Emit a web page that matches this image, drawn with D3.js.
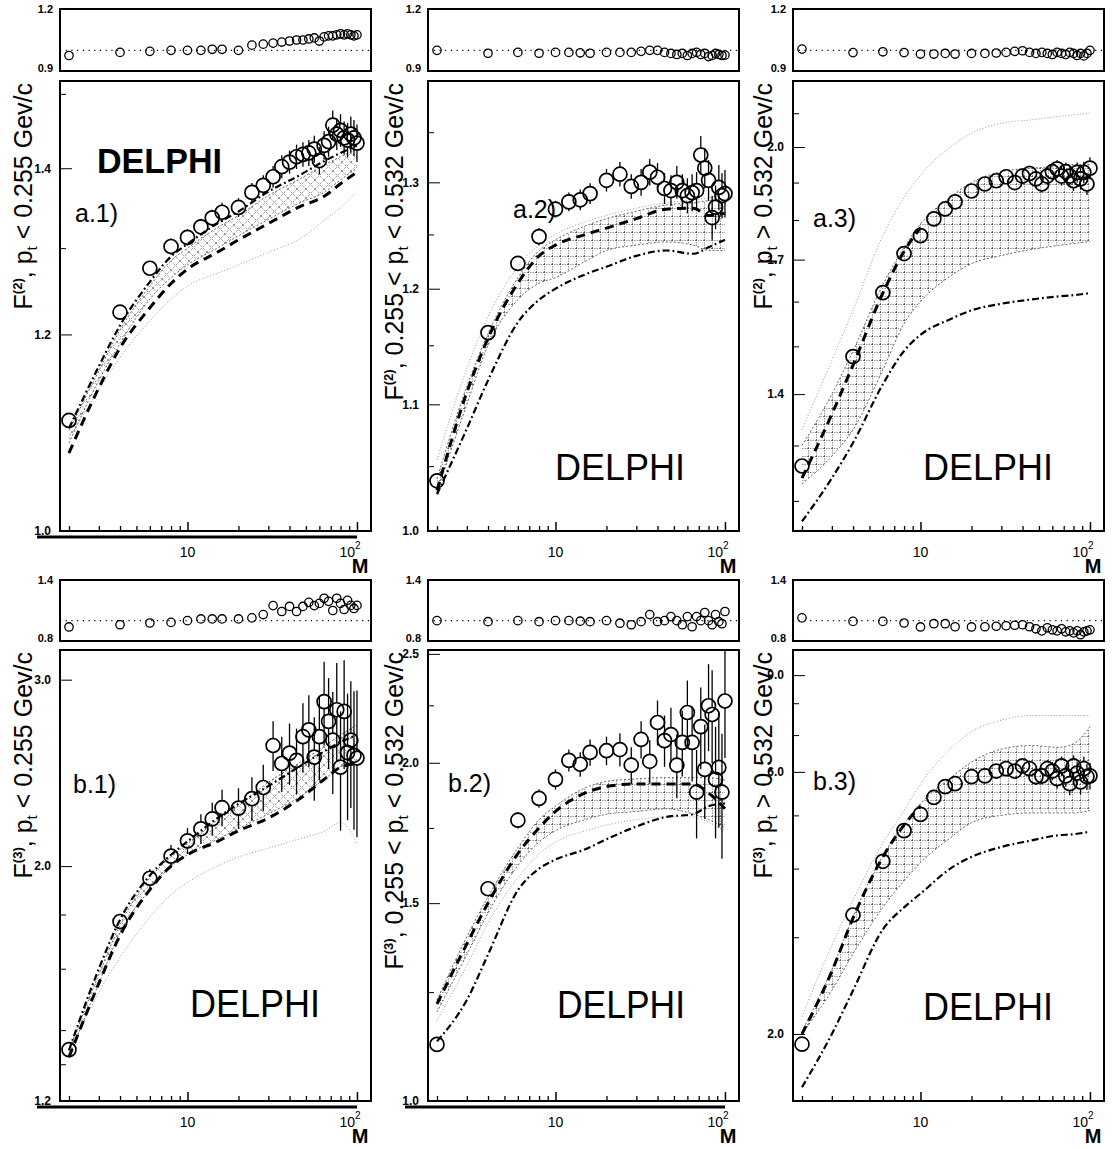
<!DOCTYPE html>
<html>
<head>
<meta charset="utf-8">
<script src="https://cdn.jsdelivr.net/npm/d3@7"></script>
<style>
  body { margin: 0; background: #fff; }
  svg { display: block; }
  text { font-family: "Liberation Sans", Arial, sans-serif; fill: #000; }
</style>
</head>
<body>
<div id="chart"></div>
<script>
// bin numbers of the measured points
var M = [2, 4, 6, 8, 10, 12, 14, 16, 20, 24, 28, 32, 36, 40, 44, 48, 52, 56, 60, 64, 68, 72, 76, 80, 84, 88, 92, 96, 100];
// M grid of the model curves
var modelM = [2, 3, 4, 6, 8, 10, 15, 20, 30, 45, 65, 80, 100];

// ---- a.1  F(2), pt < 0.255
var a1Data  = [1.108, 1.225, 1.276, 1.302, 1.313, 1.326, 1.337, 1.344, 1.35, 1.369, 1.378, 1.389, 1.402, 1.408, 1.415, 1.418, 1.42, 1.425, 1.41, 1.43, 1.435, 1.457, 1.445, 1.45, 1.44, 1.437, 1.445, 1.44, 1.433];
var a1Err   = [0.006, 0.008, 0.008, 0.01, 0.01, 0.01, 0.01, 0.012, 0.012, 0.012, 0.013, 0.014, 0.015, 0.015, 0.016, 0.016, 0.017, 0.018, 0.018, 0.019, 0.02, 0.02, 0.021, 0.022, 0.022, 0.023, 0.024, 0.024, 0.025];
var a1Ratio = [0.975, 0.99, 0.995, 1.0, 1.0, 1.0, 1.005, 1.005, 1.0, 1.025, 1.03, 1.035, 1.04, 1.045, 1.05, 1.05, 1.055, 1.06, 1.045, 1.065, 1.07, 1.07, 1.075, 1.08, 1.075, 1.08, 1.075, 1.07, 1.075];
var a1Dashed  = [1.075, 1.142, 1.185, 1.23, 1.258, 1.275, 1.295, 1.31, 1.33, 1.35, 1.365, 1.38, 1.395];
var a1DashDot = [1.10, 1.165, 1.21, 1.26, 1.29, 1.305, 1.33, 1.345, 1.37, 1.39, 1.41, 1.42, 1.43];
var a1BandHi  = [1.098, 1.16, 1.205, 1.255, 1.285, 1.30, 1.325, 1.34, 1.365, 1.385, 1.405, 1.415, 1.425];
var a1BandLo  = [1.085, 1.15, 1.19, 1.24, 1.265, 1.28, 1.30, 1.315, 1.335, 1.355, 1.37, 1.385, 1.40];
var a1Outer   = [1.09, 1.14, 1.175, 1.215, 1.24, 1.255, 1.27, 1.28, 1.295, 1.31, 1.335, 1.35, 1.37];

// ---- a.2  F(2), 0.255 < pt < 0.532
var a2Data  = [1.0385, 1.161, 1.223, 1.248, 1.274, 1.281, 1.283, 1.289, 1.302, 1.308, 1.296, 1.300, 1.310, 1.305, 1.294, 1.292, 1.300, 1.292, 1.287, 1.290, 1.292, 1.327, 1.314, 1.302, 1.266, 1.276, 1.295, 1.287, 1.289];
var a2Err   = [0.004, 0.006, 0.007, 0.008, 0.008, 0.009, 0.01, 0.01, 0.011, 0.012, 0.012, 0.013, 0.013, 0.014, 0.015, 0.015, 0.016, 0.016, 0.017, 0.018, 0.018, 0.019, 0.02, 0.02, 0.021, 0.021, 0.022, 0.022, 0.023];
var a2Ratio = [1.0, 0.986, 0.99, 0.986, 0.99, 0.99, 0.988, 0.986, 0.99, 0.99, 0.99, 0.995, 1.0, 1.0, 0.99, 0.985, 0.98, 0.985, 0.975, 0.985, 0.99, 0.98, 0.985, 0.97, 0.975, 0.985, 0.98, 0.975, 0.977];
var a2Dashed  = [1.031, 1.11, 1.156, 1.205, 1.23, 1.24, 1.25, 1.256, 1.265, 1.274, 1.275, 1.268, 1.27];
var a2DashDot = [1.028, 1.08, 1.12, 1.17, 1.19, 1.20, 1.213, 1.22, 1.23, 1.235, 1.232, 1.238, 1.245];
var a2BandHi  = [1.04, 1.115, 1.16, 1.21, 1.235, 1.245, 1.258, 1.265, 1.272, 1.278, 1.28, 1.282, 1.282];
var a2BandLo  = [1.03, 1.10, 1.15, 1.19, 1.205, 1.21, 1.225, 1.235, 1.24, 1.243, 1.24, 1.235, 1.235];
var a2Outer   = [1.055, 1.13, 1.175, 1.22, 1.24, 1.25, 1.262, 1.268, 1.275, 1.28, 1.283, 1.285, 1.288];

// ---- a.3  F(2), pt > 0.532
var a3Data  = [1.262, 1.478, 1.621, 1.715, 1.76, 1.803, 1.829, 1.848, 1.877, 1.896, 1.905, 1.916, 1.90, 1.918, 1.925, 1.91, 1.896, 1.918, 1.93, 1.938, 1.918, 1.93, 1.918, 1.905, 1.928, 1.91, 1.928, 1.896, 1.94];
var a3Err   = [0.01, 0.01, 0.012, 0.012, 0.013, 0.014, 0.015, 0.016, 0.017, 0.018, 0.019, 0.02, 0.02, 0.021, 0.022, 0.022, 0.023, 0.024, 0.024, 0.025, 0.026, 0.026, 0.027, 0.028, 0.028, 0.029, 0.03, 0.03, 0.031];
var a3Ratio = [1.006, 0.989, 0.993, 0.989, 0.982, 0.982, 0.985, 0.982, 0.985, 0.985, 0.987, 0.99, 0.995, 0.998, 0.99, 0.985, 0.99, 0.985, 0.98, 0.99, 0.985, 0.98, 0.99, 0.985, 0.975, 0.985, 0.973, 0.985, 1.0];
var a3Dashed  = [1.24, 1.36, 1.46, 1.62, 1.72, 1.78, null, null, null, null, null, null, null];
var a3DashDot = [1.165, 1.24, 1.305, 1.42, 1.49, 1.525, 1.56, 1.58, 1.595, 1.605, 1.612, 1.615, 1.62];
var a3BandHi  = [1.30, 1.40, 1.49, 1.64, 1.73, 1.79, 1.86, 1.90, 1.93, 1.94, 1.945, 1.95, 1.95];
var a3BandLo  = [1.23, 1.28, 1.33, 1.45, 1.55, 1.60, 1.66, 1.69, 1.71, 1.725, 1.735, 1.74, 1.745];
var a3Outer   = [1.33, 1.47, 1.58, 1.76, 1.86, 1.92, 2.0, 2.04, 2.07, 2.08, 2.09, 2.095, 2.10];

// ---- b.1  F(3), pt < 0.255
var b1Data  = [1.342, 1.773, 1.948, 2.044, 2.113, 2.169, 2.216, 2.271, 2.269, 2.316, 2.373, 2.60, 2.50, 2.557, 2.517, 2.65, 2.69, 2.535, 2.65, 2.86, 2.74, 2.63, 2.81, 2.48, 2.80, 2.56, 2.63, 2.545, 2.53];
var b1Err   = [0.02, 0.03, 0.04, 0.05, 0.06, 0.07, 0.08, 0.09, 0.1, 0.11, 0.12, 0.14, 0.15, 0.17, 0.18, 0.2, 0.21, 0.23, 0.24, 0.26, 0.27, 0.29, 0.3, 0.32, 0.33, 0.35, 0.36, 0.38, 0.4];
var b1Ratio = [0.938, 0.96, 0.977, 0.983, 1.0, 1.017, 1.017, 1.017, 1.017, 1.027, 1.06, 1.148, 1.09, 1.14, 1.09, 1.14, 1.18, 1.148, 1.17, 1.22, 1.19, 1.10, 1.22, 1.17, 1.11, 1.2, 1.15, 1.12, 1.15];
var b1Dashed  = [1.32, 1.55, 1.72, 1.90, 2.0, 2.05, 2.11, 2.16, 2.22, 2.31, 2.42, 2.48, 2.50];
var b1DashDot = [1.34, 1.60, 1.78, 1.96, 2.05, 2.11, 2.22, 2.29, 2.38, 2.48, 2.57, 2.62, 2.66];
var b1BandHi  = [1.34, 1.58, 1.76, 1.95, 2.04, 2.10, 2.21, 2.28, 2.40, 2.50, 2.60, 2.66, 2.72];
var b1BandLo  = [1.32, 1.55, 1.73, 1.90, 2.0, 2.05, 2.12, 2.17, 2.24, 2.32, 2.42, 2.48, 2.52];
var b1Outer   = [1.33, 1.52, 1.64, 1.79, 1.88, 1.93, 2.0, 2.04, 2.08, 2.12, 2.16, 2.2, 2.1];

// ---- b.2  F(3), 0.255 < pt < 0.532
var b2Data  = [1.123, 1.545, 1.778, 1.859, 1.933, 2.01, 1.994, 2.043, 2.05, 2.055, 1.99, 2.098, 2.006, 2.172, 2.093, 2.119, 1.99, 2.085, 2.217, 2.085, 1.883, 2.154, 1.973, 2.248, 2.208, 1.933, 1.981, 1.883, 2.27];
var b2Err   = [0.01, 0.02, 0.03, 0.035, 0.04, 0.045, 0.05, 0.055, 0.06, 0.07, 0.075, 0.08, 0.09, 0.1, 0.11, 0.12, 0.13, 0.14, 0.15, 0.16, 0.17, 0.18, 0.19, 0.2, 0.21, 0.22, 0.23, 0.24, 0.25];
var b2Ratio = [1.0, 0.99, 1.0, 0.99, 1.0, 1.0, 0.995, 0.99, 1.0, 0.975, 0.96, 0.99, 1.06, 0.99, 1.0, 1.04, 1.0, 0.96, 1.04, 0.94, 1.04, 1.0, 1.08, 1.0, 0.96, 1.06, 0.99, 0.97, 1.09];
var b2Dashed  = [1.22, 1.38, 1.50, 1.66, 1.75, 1.81, 1.88, 1.905, 1.915, 1.915, 1.915, 1.88, 1.82];
var b2DashDot = [1.13, 1.23, 1.35, 1.54, 1.61, 1.64, 1.675, 1.71, 1.755, 1.79, 1.80, 1.83, 1.84];
var b2BandHi  = [1.23, 1.40, 1.52, 1.68, 1.78, 1.83, 1.90, 1.925, 1.935, 1.94, 1.94, 1.94, 1.93];
var b2BandLo  = [1.2, 1.35, 1.47, 1.62, 1.70, 1.74, 1.78, 1.80, 1.81, 1.82, 1.80, 1.78, 1.75];
var b2Outer   = [1.18, 1.32, 1.44, 1.58, 1.66, 1.70, 1.74, 1.76, 1.78, 1.79, 1.79, 1.77, 1.74];

// ---- b.3  F(3), pt > 0.532
var b3Data  = [1.916, 3.293, 4.124, 4.69, 5.02, 5.39, 5.64, 5.71, 5.88, 5.90, 6.02, 6.08, 6.02, 6.15, 6.08, 5.88, 5.90, 6.08, 6.02, 5.83, 6.15, 5.90, 5.71, 6.15, 5.97, 5.75, 6.08, 5.88, 5.90];
var b3Err   = [0.03, 0.05, 0.07, 0.08, 0.09, 0.1, 0.11, 0.12, 0.13, 0.14, 0.15, 0.16, 0.17, 0.18, 0.19, 0.2, 0.21, 0.22, 0.23, 0.24, 0.25, 0.26, 0.27, 0.28, 0.29, 0.3, 0.31, 0.32, 0.33];
var b3Ratio = [1.027, 0.993, 0.993, 0.977, 0.938, 0.97, 0.97, 0.94, 0.938, 0.94, 0.945, 0.95, 0.955, 0.96, 0.94, 0.92, 0.9, 0.93, 0.91, 0.9, 0.92, 0.89, 0.9, 0.88, 0.9, 0.862, 0.89, 0.9, 0.91];
var b3Dashed  = [2.0, 2.6, 3.25, 4.2, 4.8, 5.2, null, null, null, null, null, null, null];
var b3DashDot = [1.60, 2.0, 2.4, 3.1, 3.4, 3.6, 4.0, 4.2, 4.38, 4.5, 4.6, 4.62, 4.67];
var b3BandHi  = [2.02, 2.62, 3.27, 4.22, 4.82, 5.25, 5.85, 6.25, 6.6, 6.7, 6.65, 6.75, 7.25];
var b3BandLo  = [2.0, 2.4, 2.8, 3.4, 3.8, 4.1, 4.55, 4.85, 5.0, 5.05, 5.05, 5.05, 5.1];
var b3Outer   = [2.15, 2.9, 3.5, 4.45, 5.1, 5.7, 6.6, 7.1, 7.45, 7.6, 7.6, 7.6, 7.6];

// ---- layout
var W = 1113, H = 1149;
var colX = [60, 428, 793], panelW = 311;
var ratioTop = [9, 580], ratioBot = [71, 641];
var mainTop = [81, 650], mainBot = [531, 1101];
var ratioDomain = [[0.9, 1.2], [0.8, 1.4]];
var xDomain = [1.77, 121];
var labelX = [32, 403, 772];
var cutText = [
    [", p", " < 0.255 Gev/c"],
    [", 0.255 < p", " < 0.532 Gev/c"],
    [", p", " > 0.532 Gev/c"]
];

var panels = [
    {name: "a.1)", col: 0, row: 0, order: "(2)", data: a1Data, err: a1Err, ratio: a1Ratio,
     dashed: a1Dashed, dashDot: a1DashDot, bandLo: a1BandLo, bandHi: a1BandHi, outer: a1Outer, hatch: "diag",
     yDomain: [1.0, 1.518], yMajor: [1.0, 1.2, 1.4], yMinor: [1.3, 1.5],
     delphi: [37, 92, 35, 125, true], tag: [15, 141], under: true},
    {name: "a.2)", col: 1, row: 0, order: "(2)", data: a2Data, err: a2Err, ratio: a2Ratio,
     dashed: a2Dashed, dashDot: a2DashDot, bandLo: a2BandLo, bandHi: a2BandHi, outer: a2Outer, hatch: "grid",
     yDomain: [1.0, 1.403], yMajor: [1.0, 1.1, 1.2, 1.3], yMinor: [1.05, 1.15, 1.25, 1.35],
     delphi: [127, 399, 37, 130, false], tag: [85, 137], under: false},
    {name: "a.3)", col: 2, row: 0, order: "(2)", data: a3Data, err: a3Err, ratio: a3Ratio,
     dashed: a3Dashed, dashDot: a3DashDot, bandLo: a3BandLo, bandHi: a3BandHi, outer: a3Outer, hatch: "grid",
     yDomain: [1.149, 2.20], yMajor: [1.4, 1.7, 2.0], yMinor: [1.2, 1.3, 1.5, 1.6, 1.8, 1.9, 2.1],
     delphi: [130, 399, 37, 130, false], tag: [20, 146], under: false},
    {name: "b.1)", col: 0, row: 1, order: "(3)", data: b1Data, err: b1Err, ratio: b1Ratio,
     dashed: b1Dashed, dashDot: b1DashDot, bandLo: b1BandLo, bandHi: b1BandHi, outer: b1Outer, hatch: "diag",
     yDomain: [1.2, 3.2], yMajor: [1.2, 2.0, 3.0], yMinor: [1.3, 1.4, 1.6, 1.8],
     delphi: [130, 367, 39, 130, false], tag: [13, 143], under: true},
    {name: "b.2)", col: 1, row: 1, order: "(3)", data: b2Data, err: b2Err, ratio: b2Ratio,
     dashed: b2Dashed, dashDot: b2DashDot, bandLo: b2BandLo, bandHi: b2BandHi, outer: b2Outer, hatch: "grid",
     yDomain: [1.0, 2.52], yMajor: [1.0, 1.5, 2.0, 2.5], yMinor: [1.25, 1.75, 2.25],
     delphi: [129, 368, 39, 128, false], tag: [20, 142], under: true},
    {name: "b.3)", col: 2, row: 1, order: "(3)", data: b3Data, err: b3Err, ratio: b3Ratio,
     dashed: b3Dashed, dashDot: b3DashDot, bandLo: b3BandLo, bandHi: b3BandHi, outer: b3Outer, hatch: "grid",
     yDomain: [1.51, 10.0], yMajor: [2.0, 6.0, 9.0], yMinor: [3, 4, 5, 7, 8],
     delphi: [130, 370, 39, 130, false], tag: [20, 140], under: false}
];

var svg = d3.select("#chart").append("svg")
    .attr("width", W)
    .attr("height", H);
svg.append("rect").attr("width", W).attr("height", H).attr("fill", "#fff");

// hatch patterns for the model bands
var defs = svg.append("defs");
var grid = defs.append("pattern").attr("id", "grid")
    .attr("patternUnits", "userSpaceOnUse").attr("width", 8).attr("height", 8);
grid.append("path").attr("d", "M0,0.5H8M0.5,0V8")
    .attr("stroke", "#444").attr("stroke-width", 0.8).attr("stroke-dasharray", "1,1.3").attr("fill", "none");
var diag = defs.append("pattern").attr("id", "diag")
    .attr("patternUnits", "userSpaceOnUse").attr("width", 9).attr("height", 9);
diag.append("path").attr("d", "M0,0L9,9M9,0L0,9")
    .attr("stroke", "#444").attr("stroke-width", 0.8).attr("stroke-dasharray", "1,1.3").attr("fill", "none");

function pairs(xs, ys) { return xs.map(function(m, i) { return [m, ys[i]]; }); }

panels.forEach(function(p) {
    var x0 = colX[p.col], x1 = x0 + panelW;
    var rt = ratioTop[p.row], rb = ratioBot[p.row];
    var mt = mainTop[p.row], mb = mainBot[p.row];

    var x = d3.scaleLog().domain(xDomain).range([x0, x1]);
    var y = d3.scaleLog().domain(p.yDomain).range([mb, mt]);
    var yr = d3.scaleLinear().domain(ratioDomain[p.row]).range([rb, rt]);

    var clipId = "clip" + p.col + p.row;
    defs.append("clipPath").attr("id", clipId).append("rect")
        .attr("x", x0).attr("y", mt).attr("width", panelW).attr("height", mb - mt);

    var g = svg.append("g").attr("clip-path", "url(#" + clipId + ")");

    var line = d3.line()
        .defined(function(d) { return d[1] != null; })
        .x(function(d) { return x(d[0]); })
        .y(function(d) { return y(d[1]); })
        .curve(d3.curveMonotoneX);
    var area = d3.area()
        .x(function(d) { return x(d[0]); })
        .y0(function(d) { return y(d[1]); })
        .y1(function(d) { return y(d[2]); })
        .curve(d3.curveMonotoneX);

    // hatched band
    var band = modelM.map(function(m, i) { return [m, p.bandLo[i], p.bandHi[i]]; });
    g.append("path").datum(band).attr("d", area).attr("fill", "url(#" + p.hatch + ")");
    [p.bandLo, p.bandHi].forEach(function(arr) {
        g.append("path").datum(pairs(modelM, arr)).attr("d", line)
            .attr("fill", "none").attr("stroke", "#555").attr("stroke-width", 0.9).attr("stroke-dasharray", "2,2");
    });

    // light dotted envelope
    g.append("path").datum(pairs(modelM, p.outer)).attr("d", line)
        .attr("fill", "none").attr("stroke", "#999").attr("stroke-width", 1).attr("stroke-dasharray", "1,2");

    // dash-dot model
    g.append("path").datum(pairs(modelM, p.dashDot)).attr("d", line)
        .attr("fill", "none").attr("stroke", "#000").attr("stroke-width", 2.2).attr("stroke-dasharray", "7,3,1.8,3");

    // dashed model
    g.append("path").datum(pairs(modelM, p.dashed)).attr("d", line)
        .attr("fill", "none").attr("stroke", "#000").attr("stroke-width", 3).attr("stroke-dasharray", "9,6");

    // data points with error bars
    var r = 7;
    var pts = M.map(function(m, i) { return {m: m, v: p.data[i], e: p.err[i]}; });
    var pg = g.append("g");
    pts.forEach(function(d) {
        var cx = x(d.m), cy = y(d.v), yTop = y(d.v + d.e), yBot = y(d.v - d.e);
        if (cy - r > yTop) pg.append("line").attr("x1", cx).attr("x2", cx).attr("y1", yTop).attr("y2", cy - r)
            .attr("stroke", "#000").attr("stroke-width", 1.3);
        if (yBot > cy + r) pg.append("line").attr("x1", cx).attr("x2", cx).attr("y1", cy + r).attr("y2", yBot)
            .attr("stroke", "#000").attr("stroke-width", 1.3);
    });
    pg.selectAll("circle").data(pts).enter().append("circle")
        .attr("cx", function(d) { return x(d.m); })
        .attr("cy", function(d) { return y(d.v); })
        .attr("r", r)
        .attr("fill", "none").attr("stroke", "#000").attr("stroke-width", 1.7);

    // frame
    svg.append("rect").attr("x", x0).attr("y", mt).attr("width", panelW).attr("height", mb - mt)
        .attr("fill", "none").attr("stroke", "#000").attr("stroke-width", 2);

    // y axis (ticks inside)
    svg.append("g").attr("transform", "translate(" + x0 + ",0)")
        .call(d3.axisLeft(y).tickValues(p.yMajor).tickSize(-12).tickPadding(9).tickFormat(d3.format(".1f")))
        .call(function(a) { a.select(".domain").remove(); })
        .attr("font-family", "Liberation Sans, Arial, sans-serif").attr("font-size", 12).attr("font-weight", "bold");
    svg.append("g").attr("transform", "translate(" + x0 + ",0)")
        .call(d3.axisLeft(y).tickValues(p.yMinor).tickSize(-6).tickFormat(""))
        .call(function(a) { a.select(".domain").remove(); });

    // x axis (ticks inside)
    var majorX = [10, 100];
    var minorX = [2, 3, 4, 5, 6, 7, 8, 9, 20, 30, 40, 50, 60, 70, 80, 90];
    svg.append("g").attr("transform", "translate(0," + mb + ")")
        .call(d3.axisBottom(x).tickValues(majorX).tickSize(-9).tickFormat(""))
        .call(function(a) { a.select(".domain").remove(); })
        .selectAll("line").attr("stroke-width", 1.5);
    svg.append("g").attr("transform", "translate(0," + mb + ")")
        .call(d3.axisBottom(x).tickValues(minorX).tickSize(-5).tickFormat(""))
        .call(function(a) { a.select(".domain").remove(); })
        .selectAll("line").attr("stroke-width", 1.3);

    if (p.under) {
        svg.append("line").attr("x1", x0 - 23).attr("x2", x(100)).attr("y1", mb + 6).attr("y2", mb + 6)
            .attr("stroke", "#000").attr("stroke-width", 3);
    }

    svg.append("text").attr("x", x(10)).attr("y", mb + 26).attr("text-anchor", "middle")
        .attr("font-size", 14).text("10");
    var t100 = svg.append("text").attr("x", x(100) - 7).attr("y", mb + 26).attr("text-anchor", "middle")
        .attr("font-size", 14);
    t100.append("tspan").text("10");
    t100.append("tspan").attr("dy", -8).attr("font-size", 10).text("2");
    svg.append("text").attr("x", x(100) + 3).attr("y", mb + 42).attr("text-anchor", "middle")
        .attr("font-size", 20).attr("font-weight", "bold").text("M");

    // ratio panel
    svg.append("line").attr("x1", x0).attr("x2", x1).attr("y1", yr(1)).attr("y2", yr(1))
        .attr("stroke", "#000").attr("stroke-width", 1.2).attr("stroke-dasharray", "1.2,4.5");
    svg.append("g").selectAll("circle").data(M).enter().append("circle")
        .attr("cx", function(m) { return x(m); })
        .attr("cy", function(m, i) { return yr(p.ratio[i]); })
        .attr("r", 4.2)
        .attr("fill", "none").attr("stroke", "#000").attr("stroke-width", 1.3);
    svg.append("rect").attr("x", x0).attr("y", rt).attr("width", panelW).attr("height", rb - rt)
        .attr("fill", "none").attr("stroke", "#000").attr("stroke-width", 2);
    var rd = ratioDomain[p.row];
    svg.append("text").attr("x", x0 - 7).attr("y", rt + 4).attr("text-anchor", "end")
        .attr("font-size", 11).attr("font-weight", "bold").text(d3.format(".1f")(rd[1]));
    svg.append("text").attr("x", x0 - 7).attr("y", rb + 1).attr("text-anchor", "end")
        .attr("font-size", 11).attr("font-weight", "bold").text(d3.format(".1f")(rd[0]));

    // rotated axis title
    var c = cutText[p.col];
    var lab = svg.append("text")
        .attr("transform", "translate(" + labelX[p.col] + "," + (mt + 2) + ") rotate(-90)")
        .attr("text-anchor", "end").attr("font-size", 25);
    lab.append("tspan").text("F");
    lab.append("tspan").attr("dy", -10).attr("font-size", 13).attr("font-weight", "bold").text(p.order);
    lab.append("tspan").attr("dy", 10).text(c[0]);
    lab.append("tspan").attr("dy", 5).attr("font-size", 15).text("t");
    lab.append("tspan").attr("dy", -5).text(c[1]);

    // DELPHI tag and panel label (thin lettering, a.1 bold)
    var dl = p.delphi;
    svg.append("text").attr("x", x0 + dl[0]).attr("y", mt + dl[1])
        .attr("font-family", dl[4] ? "Liberation Sans, Arial, sans-serif" : "Lato, DejaVu Sans, sans-serif")
        .attr("font-size", dl[2]).attr("font-weight", dl[4] ? "bold" : 300)
        .attr("textLength", dl[3]).attr("lengthAdjust", "spacingAndGlyphs")
        .text("DELPHI");
    svg.append("text").attr("x", x0 + p.tag[0]).attr("y", mt + p.tag[1])
        .attr("font-family", "Lato, DejaVu Sans, sans-serif").attr("font-weight", 300)
        .attr("font-size", 25).text(p.name);
});
</script>
</body>
</html>
